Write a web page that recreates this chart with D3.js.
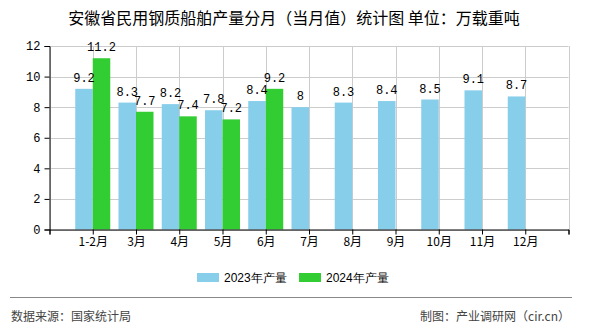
<!DOCTYPE html>
<html>
<head>
<meta charset="utf-8">
<script src="https://cdn.jsdelivr.net/npm/d3@7/dist/d3.min.js"></script>
<style>
  html, body { margin: 0; padding: 0; background: #fff; }
  svg { display: block; }
</style>
</head>
<body>
<svg id="chart" width="590" height="330"></svg>
<script>
// Monthly output data (万载重吨)
const categories = ["1-2月", "3月", "4月", "5月", "6月", "7月", "8月", "9月", "10月", "11月", "12月"];
const values2023 = [9.2, 8.3, 8.2, 7.8, 8.4, 8, 8.3, 8.4, 8.5, 9.1, 8.7];
const values2024 = [11.2, 7.7, 7.4, 7.2, 9.2];
const yTicks = [0, 2, 4, 6, 8, 10, 12];
const seriesNames = ["2023年产量", "2024年产量"];
const seriesColors = ["#87CEEB", "#32CD32"];

const svg = d3.select("#chart");
const plot = { left: 49.5, right: 568.5, top: 46, bottom: 229.5 };
const barW = 17.5;
const cjk = "'Noto Sans CJK SC', 'Noto Sans', sans-serif";
const mono = "'Liberation Mono', 'DejaVu Sans Mono', monospace";

// Category positions: each group sits on a tick, one empty slot before and after
const x = d3.scaleLinear().domain([-1, categories.length]).range([plot.left, plot.right]);
const y = d3.scaleLinear().domain([0, 12]).range([plot.bottom, plot.top]);

// Title
svg.append("text")
  .attr("x", 294).attr("y", 24)
  .attr("text-anchor", "middle")
  .attr("font-family", cjk).attr("font-size", 16).attr("fill", "#000")
  .text("安徽省民用钢质船舶产量分月（当月值）统计图 单位：万载重吨");

// Grid lines
const grid = svg.append("g").attr("stroke", "#cccccc").attr("stroke-width", 1);
yTicks.forEach(t => {
  grid.append("line").attr("x1", plot.left).attr("x2", plot.right)
    .attr("y1", Math.round(y(t)) + 0.5).attr("y2", Math.round(y(t)) + 0.5);
});
d3.range(-1, categories.length + 1).forEach(i => {
  const px = Math.round(x(i)) + 0.5;
  grid.append("line").attr("x1", px).attr("x2", px)
    .attr("y1", plot.top).attr("y2", plot.bottom);
});

// Bars
const bars = svg.append("g");
bars.selectAll("rect.s2023").data(values2023).join("rect")
  .attr("class", "s2023")
  .attr("x", (d, i) => x(i) - barW)
  .attr("width", barW)
  .attr("y", d => y(d))
  .attr("height", d => y(0) - y(d))
  .attr("fill", seriesColors[0]);
bars.selectAll("rect.s2024").data(values2024).join("rect")
  .attr("class", "s2024")
  .attr("x", (d, i) => x(i))
  .attr("width", barW)
  .attr("y", d => y(d))
  .attr("height", d => y(0) - y(d))
  .attr("fill", seriesColors[1]);

// Value labels
const labels = svg.append("g").attr("font-family", mono).attr("font-size", 12)
  .attr("fill", "#000").attr("text-anchor", "middle");
labels.selectAll("text.l2023").data(values2023).join("text")
  .attr("class", "l2023")
  .attr("x", (d, i) => x(i) - barW / 2)
  .attr("y", d => y(d) - 7)
  .text(d => d);
labels.selectAll("text.l2024").data(values2024).join("text")
  .attr("class", "l2024")
  .attr("x", (d, i) => x(i) + barW / 2)
  .attr("y", d => y(d) - 7)
  .text(d => d);

// Y axis
const yAxis = svg.append("g")
  .attr("transform", `translate(${plot.left},0)`)
  .call(d3.axisLeft(y).tickValues(yTicks).tickSize(5).tickPadding(4).tickFormat(d3.format("d")));
yAxis.select(".domain").attr("stroke", "#000");
yAxis.selectAll(".tick line").attr("stroke", "#000");
yAxis.selectAll("text").attr("font-family", mono).attr("font-size", 12).attr("fill", "#000");

// X axis
const xAxis = svg.append("g")
  .attr("transform", `translate(0,${plot.bottom})`)
  .call(d3.axisBottom(x).tickValues(d3.range(-1, categories.length + 1)).tickSize(5).tickPadding(3)
    .tickFormat(i => (i >= 0 && i < categories.length) ? categories[i] : ""));
xAxis.select(".domain").attr("stroke", "#000");
xAxis.selectAll(".tick line").attr("stroke", "#000");
xAxis.selectAll("text").attr("font-family", cjk).attr("font-size", 12).attr("fill", "#000");

// Legend
const legend = svg.append("g").attr("font-family", "'Liberation Sans', Arial, sans-serif").attr("font-size", 12);
const legendX = [197, 299];
seriesNames.forEach((name, k) => {
  legend.append("rect").attr("x", legendX[k]).attr("y", 273).attr("width", 22).attr("height", 9)
    .attr("fill", seriesColors[k]);
  legend.append("text").attr("x", legendX[k] + 27).attr("y", 282).attr("fill", "#000").text(name);
});

// Footer
svg.append("line").attr("x1", 10).attr("x2", 572).attr("y1", 297.5).attr("y2", 297.5)
  .attr("stroke", "#888").attr("stroke-width", 1);
svg.append("text").attr("x", 11).attr("y", 321)
  .attr("font-family", cjk).attr("font-size", 12).attr("fill", "#444")
  .text("数据来源：国家统计局");
svg.append("text").attr("x", 570).attr("y", 321).attr("text-anchor", "end")
  .attr("font-family", cjk).attr("font-size", 12).attr("fill", "#444")
  .text("制图：产业调研网（cir.cn）");
</script>
</body>
</html>
